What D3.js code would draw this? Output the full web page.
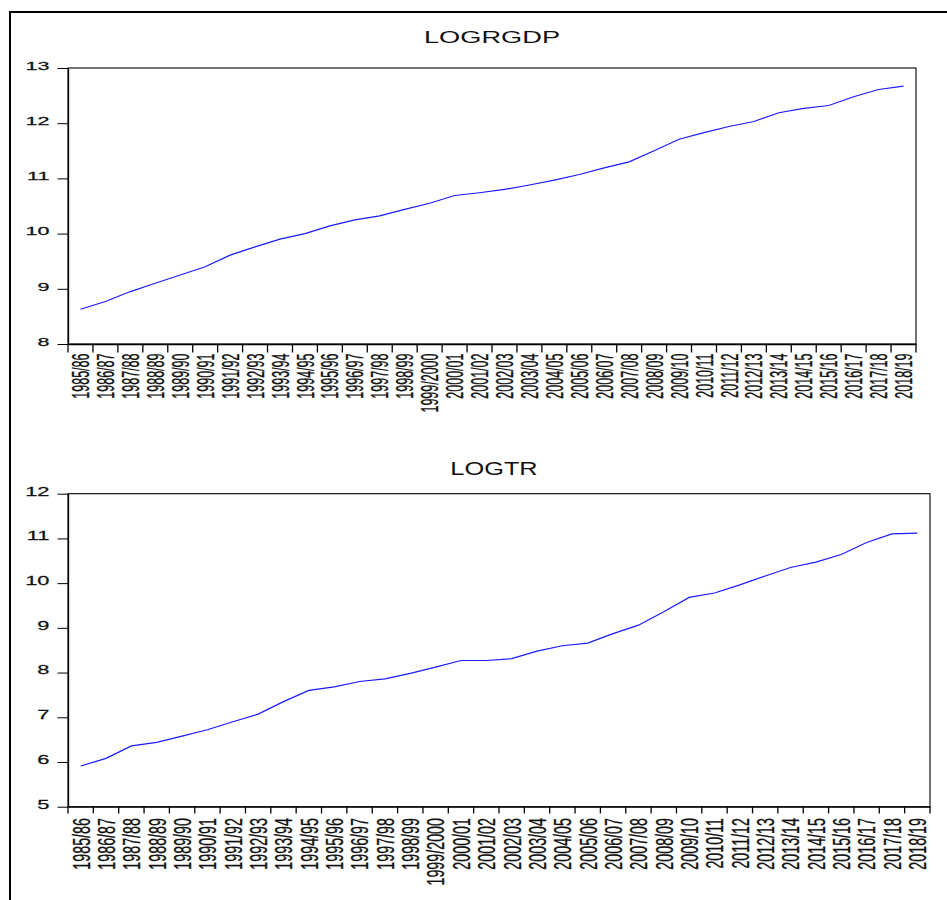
<!DOCTYPE html>
<html>
<head>
<meta charset="utf-8">
<script src="https://cdn.jsdelivr.net/npm/d3@7"></script>
<style>
  html, body { margin: 0; padding: 0; background: #fff; }
  svg { display: block; }
  text { font-family: "Liberation Sans", Arial, sans-serif; fill: #111; }
</style>
</head>
<body>
<svg id="chart" width="947" height="900"></svg>
<script>
// Fiscal years
const categories = [
  "1985/86","1986/87","1987/88","1988/89","1989/90","1990/91","1991/92","1992/93",
  "1993/94","1994/95","1995/96","1996/97","1997/98","1998/99","1999/2000","2000/01",
  "2001/02","2002/03","2003/04","2004/05","2005/06","2006/07","2007/08","2008/09",
  "2009/10","2010/11","2011/12","2012/13","2013/14","2014/15","2015/16","2016/17",
  "2017/18","2018/19"
];

// Log of real GDP
const logrgdp = [
  8.63, 8.77, 8.95, 9.10, 9.25, 9.40, 9.61, 9.76, 9.90, 10.00,
  10.14, 10.25, 10.32, 10.44, 10.55, 10.69, 10.74, 10.80, 10.88, 10.97,
  11.07, 11.19, 11.30, 11.50, 11.71, 11.83, 11.94, 12.03, 12.19, 12.27,
  12.32, 12.48, 12.61, 12.67
];

// Log of total revenue
const logtr = [
  5.91, 6.08, 6.36, 6.44, 6.58, 6.72, 6.90, 7.07, 7.35, 7.60,
  7.68, 7.80, 7.86, 7.98, 8.12, 8.27, 8.27, 8.31, 8.48, 8.60,
  8.66, 8.87, 9.06, 9.36, 9.68, 9.78, 9.96, 10.16, 10.35, 10.47,
  10.64, 10.91, 11.10, 11.12
];

const gdpTicks = [8, 9, 10, 11, 12, 13];
const trTicks = [5, 6, 7, 8, 9, 10, 11, 12];

const svg = d3.select("#chart");

// Outer frame (left and top edges)
svg.append("line").attr("x1", 10).attr("y1", 12).attr("x2", 10).attr("y2", 900)
  .attr("stroke", "#000").attr("stroke-width", 2);
svg.append("line").attr("x1", 9).attr("y1", 12).attr("x2", 947).attr("y2", 12)
  .attr("stroke", "#000").attr("stroke-width", 2);

function drawPanel(cfg) {
  const x = d3.scaleBand().domain(categories).range([cfg.left, cfg.right]).padding(0);
  const y = d3.scaleLinear().domain(d3.extent(cfg.ticks)).range([cfg.bottom, cfg.top]);
  const bw = x.bandwidth();
  const g = svg.append("g");

  // Title
  g.append("text")
    .attr("transform", `translate(${cfg.titleX},${cfg.titleY}) scale(${cfg.titleScale},1)`)
    .attr("text-anchor", "middle")
    .style("font-size", cfg.titleSize + "px")
    .text(cfg.title);

  // Plot frame
  g.append("rect")
    .attr("x", cfg.left).attr("y", cfg.top)
    .attr("width", cfg.right - cfg.left).attr("height", cfg.bottom - cfg.top)
    .attr("fill", "none").attr("stroke", "#000").attr("stroke-width", 1.1);

  // Y axis
  const ya = g.append("g")
    .attr("transform", `translate(${cfg.left},0)`)
    .call(d3.axisLeft(y).tickValues(cfg.ticks).tickFormat(d3.format("d")).tickSize(cfg.yTick).tickSizeOuter(0));
  ya.select(".domain").attr("stroke", "#000").attr("stroke-width", 1.3);
  ya.selectAll(".tick line").attr("stroke", "#000").attr("stroke-width", 1);
  ya.selectAll(".tick text")
    .attr("x", null).attr("dy", null)
    .attr("transform", `translate(${-cfg.yLabelGap},1.3) scale(${cfg.yLabelScale},1)`)
    .attr("text-anchor", "end")
    .style("font-size", cfg.yLabelSize + "px")
    .style("font-family", "'Liberation Sans', Arial, sans-serif")
    .attr("fill", "#111")
    .attr("stroke", "#111").attr("stroke-width", 0.25);

  // X axis: ticks on category boundaries, labels centred in each band
  const xa = g.append("g")
    .attr("transform", `translate(0,${cfg.bottom})`)
    .call(d3.axisBottom(x).tickSize(0).tickSizeOuter(0));
  xa.select(".domain").attr("stroke", "#000").attr("stroke-width", 1.3);
  xa.selectAll(".tick text")
    .attr("y", null).attr("dy", null)
    .attr("transform", `translate(0,${cfg.xLabelTop - cfg.bottom}) scale(${cfg.xLabelScale},1) rotate(-90)`)
    .attr("dy", "0.36em")
    .attr("text-anchor", "end")
    .style("font-size", cfg.xLabelSize + "px")
    .style("font-family", "'Liberation Sans', Arial, sans-serif")
    .attr("fill", "#111")
    .attr("stroke", "#111").attr("stroke-width", 0.2);

  const bounds = categories.map(c => x(c)).concat([x(categories[categories.length - 1]) + bw]);
  g.append("g").selectAll("line").data(bounds).join("line")
    .attr("x1", d => d).attr("x2", d => d)
    .attr("y1", cfg.bottom).attr("y2", cfg.bottom + cfg.xTick)
    .attr("stroke", "#000").attr("stroke-width", 1.3);

  // Series line
  const line = d3.line()
    .x((d, i) => x(categories[i]) + bw / 2)
    .y(d => y(d));
  g.append("path")
    .datum(cfg.values)
    .attr("d", line)
    .attr("fill", "none")
    .attr("stroke", "#1a1aff")
    .attr("stroke-width", 1.2);
}

drawPanel({
  title: "LOGRGDP", values: logrgdp, ticks: gdpTicks,
  left: 68, right: 916, top: 68, bottom: 344,
  titleX: 492, titleY: 42.7, titleSize: 16.8, titleScale: 1.62,
  yTick: 10.5, yLabelGap: 18.5, yLabelSize: 11.6, yLabelScale: 1.86,
  xTick: 8.5, xLabelTop: 353.5, xLabelSize: 12.5, xLabelScale: 1.9
});

drawPanel({
  title: "LOGTR", values: logtr, ticks: trTicks,
  left: 68, right: 930, top: 493.7, bottom: 806.7,
  titleX: 494, titleY: 475, titleSize: 17.5, titleScale: 1.45,
  yTick: 10.5, yLabelGap: 18.5, yLabelSize: 13, yLabelScale: 1.68,
  xTick: 6.7, xLabelTop: 818, xLabelSize: 14.3, xLabelScale: 1.72
});
</script>
</body>
</html>
